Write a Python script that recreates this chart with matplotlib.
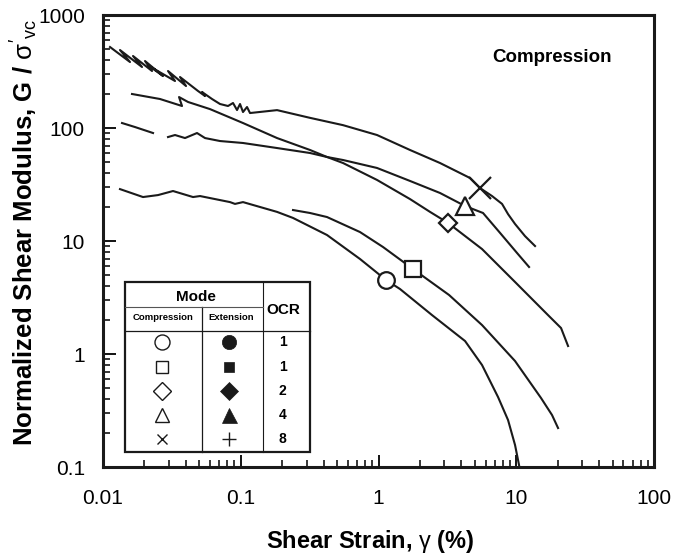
import matplotlib
matplotlib.use("Agg")
import matplotlib.pyplot as plt
from matplotlib.patches import Rectangle
from matplotlib.lines import Line2D

plt.rcParams['font.family'] = ['Liberation Sans', 'DejaVu Sans']
plt.rcParams['mathtext.fontset'] = 'custom'
plt.rcParams['mathtext.rm'] = 'Liberation Sans'
plt.rcParams['mathtext.it'] = 'Liberation Sans'
plt.rcParams['mathtext.bf'] = 'Liberation Sans:bold'

#%% data (strain in %, G / sigma'vc)
# OCR 8 (top curve, x marker) - noisy start
ocr8_x = [0.01124, 0.0157, 0.01328, 0.01919, 0.01651, 0.02269, 0.02018, 0.02727, 0.02158,
          0.03332, 0.02964, 0.04004, 0.03622, 0.04894, 0.05502, 0.05233, 0.06184,
          0.07069, 0.0808, 0.08784, 0.09393, 0.09876, 0.1038, 0.111, 0.1167,
          0.1834, 0.3182, 0.5525, 0.9752, 1.693, 2.796, 4.616, 5.456, 6.668,
          7.882, 8.712, 9.793, 11.57, 13.68]
ocr8_y = [521, 383.7, 490, 346.7, 433.8, 319.5, 391.6, 288.4, 353.9,
          260.6, 319.5, 235.3, 282.6, 212.6, 191.9, 208.3, 180.6,
          163.1, 156.6, 166.5, 144.2, 163.1, 138.5, 153.4, 135.7,
          144, 123, 106, 86.7, 63.9, 49.0, 36.1, 29.4, 25.0,
          21.3, 17.3, 14.15, 11.05, 9.03]

# OCR 4 (triangle), first short piece then the rest
ocr4a_x = [0.01374, 0.01707, 0.02307]
ocr4a_y = [110.7, 102, 90.3]
ocr4_x = [0.02964, 0.03332, 0.03937, 0.04812, 0.05502, 0.07069, 0.1038, 0.1834, 0.3182,
          0.4227, 0.5525, 0.9752, 1.693, 2.796, 4.247, 5.735, 7.621, 10.13, 12.38]
ocr4_y = [83.2, 86.7, 81.5, 90.3, 81.5, 76.7, 73.7, 66.5, 60.1,
          55.4, 52.1, 44.3, 34.0, 26.6, 20.4, 17.7, 11.8, 7.83, 5.89]

# OCR 2 (diamond)
ocr2_x = [0.01624, 0.02593, 0.03745, 0.03563, 0.04140, 0.05981, 0.1038, 0.1834, 0.3182,
          0.4227, 0.5525, 0.9752, 1.693, 2.365, 3.196, 5.641, 9.793, 17.0, 21.13, 23.76]
ocr2_y = [200, 180.6, 156.6, 188, 170, 147, 110.7, 81.5, 63.9,
          55.4, 49.0, 34.7, 23.5, 18.1, 14.45, 8.49, 4.34, 2.21, 1.698, 1.177]

# OCR 1 (square)
ocr1s_x = [0.2395, 0.3182, 0.4227, 0.734, 1.078, 1.78, 3.25, 5.641, 9.793, 15.12, 18.17, 20.1]
ocr1s_y = [18.8, 17.7, 16.3, 12.0, 8.85, 5.65, 3.33, 1.804, 0.867, 0.408, 0.2885, 0.2213]

# OCR 1 (circle)
ocr1c_x = [0.01328, 0.01951, 0.02508, 0.03222, 0.04501, 0.0506, 0.08356, 0.0908, 0.1038,
           0.1834, 0.2395, 0.4227, 0.734, 1.133, 1.432, 2.446, 4.247, 5.641, 7.372,
           8.712, 9.793, 10.47]
ocr1c_y = [28.8, 24.5, 25.5, 27.7, 24.5, 25.0, 22.1, 21.3, 22.1,
           18.1, 16.0, 11.3, 6.93, 4.52, 3.76, 2.21, 1.303, 0.799, 0.416,
           0.2605, 0.1566, 0.1041]

# marker points on the curves
mark_x = [1.133, 1.78, 3.196, 4.247, 5.456]
mark_y = [4.52, 5.65, 14.45, 20.4, 29.4]
comp_markers = ['o', 's', 'D', '^', 'x']
ext_markers = ['o', 's', 'D', '^', '+']
ocr_labels = ['1', '1', '2', '4', '8']

x_ticks = [0.01, 0.1, 1, 10, 100]
x_labels = ['0.01', '0.1', '1', '10', '100']
y_ticks = [0.1, 1, 10, 100, 1000]
y_labels = ['0.1', '1', '10', '100', '1000']

#%% figure
fig = plt.figure(figsize=(6.9, 5.54), dpi=100)
ax = fig.add_axes([0.1493, 0.157, 0.7986, 0.8159])

ink = '#1a1a1a'
lw = 1.5
for xs, ys in [(ocr8_x, ocr8_y), (ocr4a_x, ocr4a_y), (ocr4_x, ocr4_y),
               (ocr2_x, ocr2_y), (ocr1s_x, ocr1s_y), (ocr1c_x, ocr1c_y)]:
    ax.plot(xs, ys, color=ink, lw=lw, solid_joinstyle='round', zorder=2)

# open markers on the curves
sizes = [12, 12, 8.7, 12.5, 16]
for xm, ym, mk, ms in zip(mark_x, mark_y, comp_markers, sizes):
    ax.plot([xm], [ym], marker=mk, ms=ms, mfc='white', mec=ink, mew=1.6,
            ls='none', zorder=3)

ax.set_xscale('log')
ax.set_yscale('log')
ax.set_xlim(0.01, 100)
ax.set_ylim(0.1, 1000)
ax.set_xticks(x_ticks)
ax.set_xticklabels(x_labels)
ax.set_yticks(y_ticks)
ax.set_yticklabels(y_labels)

ax.tick_params(which='major', direction='in', length=9, width=1.3, labelsize=15,
               top=False, right=False)
ax.tick_params(axis='x', which='major', pad=16)
ax.tick_params(axis='y', which='major', pad=13)
ax.tick_params(which='minor', direction='in', length=5, width=1.1, top=False, right=False)
for s in ax.spines.values():
    s.set_linewidth(2.2)
    s.set_color(ink)

ax.set_xlabel(r"Shear Strain, $\gamma$ (%)", fontsize=17, fontweight='bold')
ax.xaxis.set_label_coords(0.485, -0.135)
ax.set_ylabel(r"Normalized Shear Modulus, G / $\sigma'_{\mathrm{vc}}$", fontsize=18.5,
              fontweight='bold')
ax.yaxis.set_label_coords(-0.115, 0.52)

ax.text(0.815, 0.907, 'Compression', transform=ax.transAxes, ha='center', va='center',
        fontsize=13.5, fontweight='bold')

#%% table-like legend
T = ax.transAxes
x0, x1, y0, y1 = 0.040, 0.376, 0.034, 0.410
xdiv1, xdiv2 = 0.180, 0.290
ymode, yhead = 0.355, 0.301
ax.add_patch(Rectangle((x0, y0), x1 - x0, y1 - y0, transform=T, fill=True,
                       facecolor='white', edgecolor=ink, lw=1.6, zorder=5))
ax.add_line(Line2D([xdiv1, xdiv1], [y0, ymode], transform=T, color=ink, lw=0.9, zorder=6))
ax.add_line(Line2D([xdiv2, xdiv2], [y0, y1], transform=T, color=ink, lw=0.8, zorder=6))
ax.add_line(Line2D([x0, xdiv2], [ymode, ymode], transform=T, color='#555555', lw=0.8, zorder=6))
ax.add_line(Line2D([x0, x1], [yhead, yhead], transform=T, color=ink, lw=0.9, zorder=6))

ax.text(0.169, 0.377, 'Mode', transform=T, ha='center', va='center', fontsize=11,
        fontweight='bold', zorder=7)
ax.text(0.328, 0.347, 'OCR', transform=T, ha='center', va='center', fontsize=11,
        fontweight='bold', zorder=7)
ax.text(0.1095, 0.331, 'Compression', transform=T, ha='center', va='center', fontsize=6.8,
        fontweight='bold', zorder=7)
ax.text(0.232, 0.331, 'Extension', transform=T, ha='center', va='center', fontsize=6.8,
        fontweight='bold', zorder=7)

rows = [0.277, 0.222, 0.169, 0.115, 0.063]
comp_ms = [10.8, 8.9, 9.0, 10.0, 7.2]
ext_ms = [10.3, 7.7, 8.8, 10.8, 10.0]
for ry, cm, em, cs, es, lab in zip(rows, comp_markers, ext_markers, comp_ms, ext_ms, ocr_labels):
    ax.plot([0.1065], [ry], transform=T, marker=cm, ms=cs, mfc='white', mec=ink,
            mew=1.0, ls='none', zorder=7, clip_on=False)
    ax.plot([0.229], [ry], transform=T, marker=em, ms=es, mfc=ink, mec=ink,
            mew=1.0 if em == '+' else 0.5, ls='none', zorder=7, clip_on=False)
    ax.text(0.326, ry, lab, transform=T, ha='center', va='center', fontsize=10,
            fontweight='bold', zorder=7)

fig.savefig('out.png', dpi=100)
